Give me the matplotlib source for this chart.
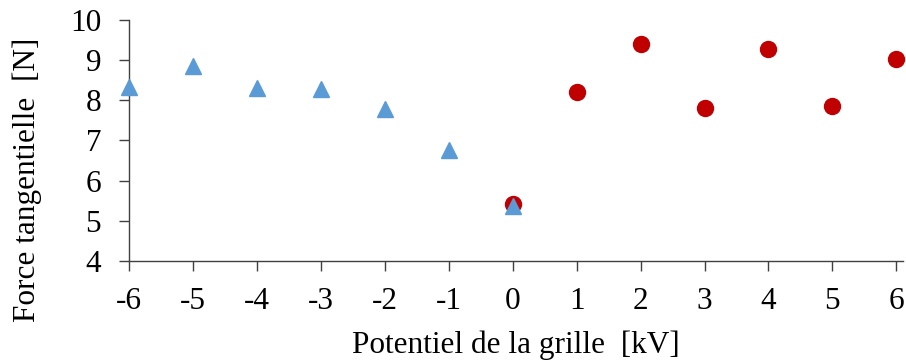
import matplotlib.pyplot as plt

# Potential (kV) and tangential force (N)
neg_potential = [-6, -5, -4, -3, -2, -1, 0]
neg_force = [8.33, 8.85, 8.31, 8.28, 7.78, 6.76, 5.37]

pos_potential = [0, 1, 2, 3, 4, 5, 6]
pos_force = [5.42, 8.21, 9.40, 7.81, 9.28, 7.86, 9.03]

x_ticks = list(range(-6, 7))
y_ticks = list(range(4, 11))

plt.rcParams['font.family'] = ['Liberation Serif', 'DejaVu Serif']

fig = plt.figure(figsize=(9.06, 3.62), dpi=100)
ax = fig.add_axes([0.1424, 0.279, 0.854, 0.6658])

ax.plot(pos_potential, pos_force, linestyle='none', marker='o', markersize=11.5,
        color='#C00000', zorder=3, clip_on=False)
ax.plot(neg_potential, neg_force, linestyle='none', marker='^', markersize=11.5,
        color='#5B9BD5', zorder=4, clip_on=False)

ax.set_xlim(-6, 6.1)
ax.set_ylim(4, 10)
ax.set_xticks(x_ticks)
ax.set_xticklabels([str(t) for t in x_ticks])
ax.set_yticks(y_ticks)

for side in ['top', 'right']:
    ax.spines[side].set_visible(False)
for side in ['left', 'bottom']:
    ax.spines[side].set_color('#404040')
    ax.spines[side].set_linewidth(1.0)

ax.tick_params(axis='both', direction='out', length=7, width=1.0, color='#404040',
               labelsize=22.5, labelcolor='black')
ax.tick_params(axis='x', pad=12)
ax.tick_params(axis='y', pad=13)

ax.set_xlabel('Potentiel de la grille  [kV]', fontsize=22.5, labelpad=10)
ax.set_ylabel('Force tangentielle  [N]', fontsize=22.5)
ax.yaxis.set_label_coords(-0.113, 0.336)

fig.savefig('out.png', dpi=100)
